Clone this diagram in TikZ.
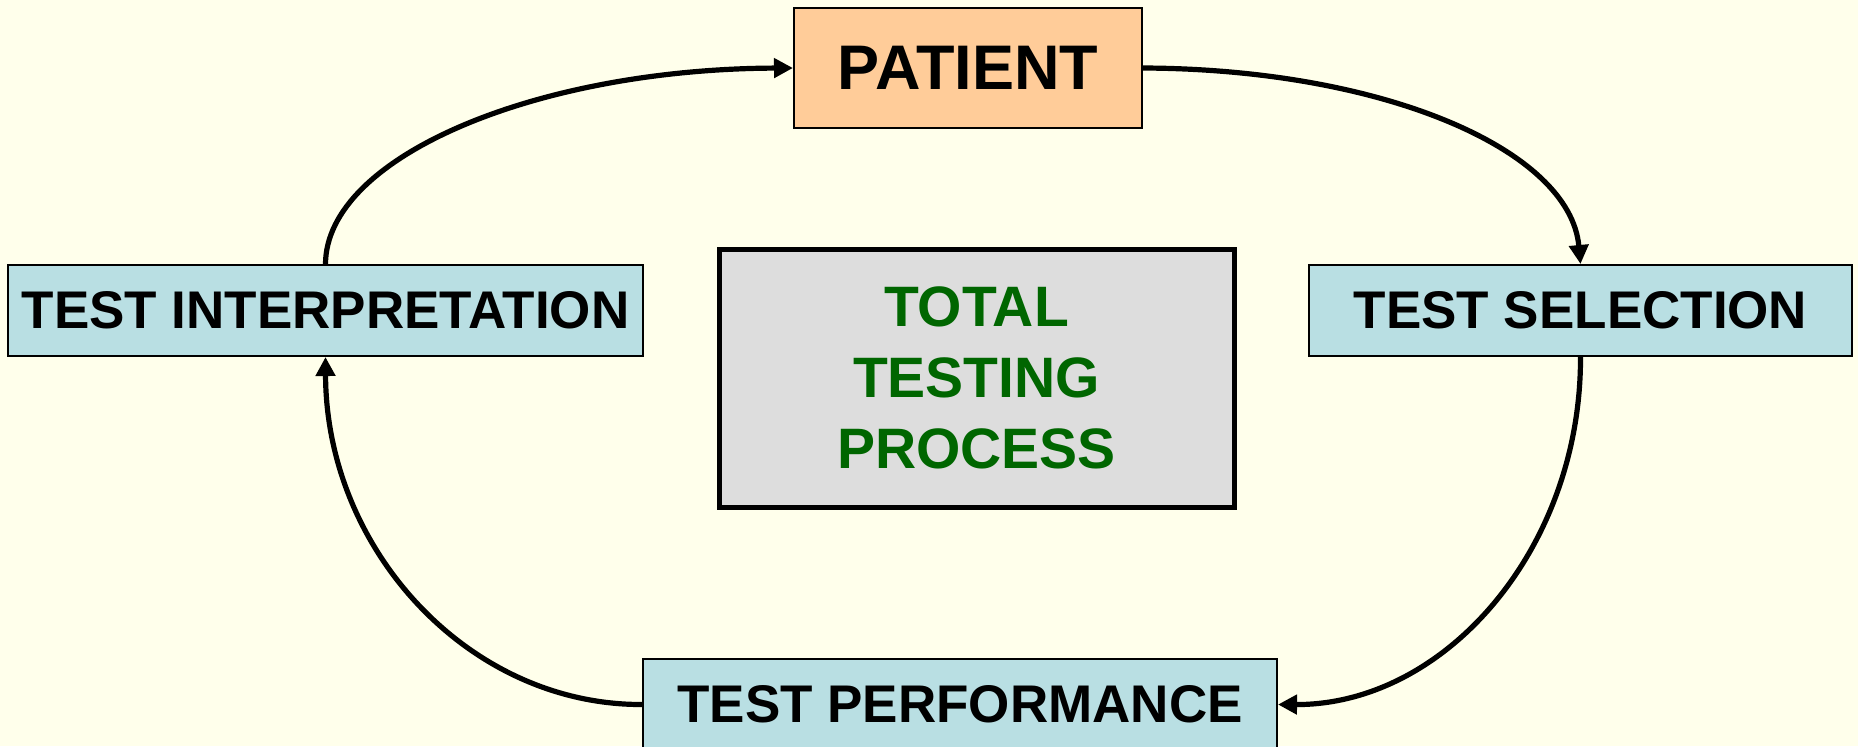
\documentclass[tikz,border=0pt]{standalone}
\usepackage{fontspec}
\setmainfont{Liberation Sans}
\usepackage{tikz}
\usetikzlibrary{arrows.meta,positioning,calc}
\usepackage{xcolor}
\definecolor{pagecream}  {RGB}{255, 255, 235}
\definecolor{patorange}  {RGB}{255, 204, 153}
\definecolor{stepblue}   {RGB}{185, 223, 227}
\definecolor{centergray} {RGB}{221, 221, 221}
\definecolor{ttpgreen}   {RGB}{  0, 102,   0}

\begin{document}
\begin{tikzpicture}[
  x=0.5pt,y=-0.5pt,
  every node/.style={font=\bfseries},
  patbox/.style={draw=black,line width=1pt,fill=patorange,
                 minimum width=174pt,minimum height=60pt,inner sep=0pt,
                 font=\fontsize{31.5}{36}\selectfont\bfseries},
  stagebox/.style={draw=black,line width=1pt,fill=stepblue,
                   minimum height=45.5pt,inner sep=0pt,
                   font=\fontsize{26.5}{32}\selectfont\bfseries},
  hubbox/.style={draw=black,line width=2.5pt,fill=centergray,
                 minimum width=257.5pt,minimum height=129pt,align=center,
                 text=ttpgreen,font=\fontsize{28.5}{35.5}\selectfont\bfseries},
  arr/.style={-{Triangle[length=9.5pt,width=9.5pt]},line width=2.6pt},
]

%% Page background and frame
\fill[pagecream] (0,0) rectangle (1858,746);
\useasboundingbox (0,0) rectangle (1858,746);

%% The four stages of the cycle
\node[patbox] (pat) at (968,68) {PATIENT};
\node[stagebox,minimum width=271.5pt] (sel) at (1580.5,310.5) {TEST SELECTION};
\node[stagebox,minimum width=317pt] (perf) at (960,704.5) {TEST PERFORMANCE};
\node[stagebox,minimum width=317.5pt] (interp) at (325.5,310.5) {TEST INTERPRETATION};

%% Centre label
\node[hubbox] (hub) at (976.5,378) {TOTAL\\TESTING\\PROCESS};

%% Cycle arrows
\draw[arr] (interp.north) .. controls (326,157) and (536,69) .. (pat.west);
\draw[arr] (pat.east) .. controls (1384,69) and (1570,150) .. (sel.north);
\draw[arr] (sel.south) .. controls (1581,549) and (1445,705) .. (perf.east);
\draw[arr] (perf.west) .. controls (468,705) and (326,549) .. (interp.south);

\end{tikzpicture}
\end{document}
